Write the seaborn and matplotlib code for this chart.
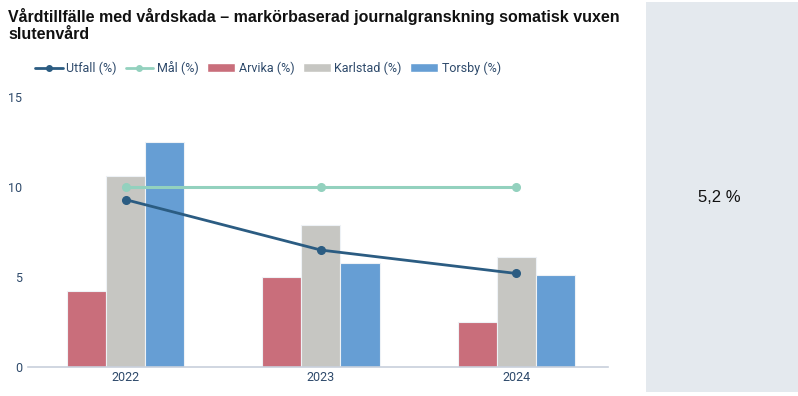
import pandas as pd
import matplotlib.pyplot as plt
import seaborn as sns
from matplotlib.lines import Line2D
from matplotlib.patches import Patch

# Data
years = ["2022", "2023", "2024"]
arvika = [4.2, 5.0, 2.5]
karlstad = [10.6, 7.9, 6.1]
torsby = [12.5, 5.8, 5.1]
utfall = [9.3, 6.5, 5.2]
mal = [10, 10, 10]
kpi_text = "5,2 %"

series_names = ["Arvika (%)", "Karlstad (%)", "Torsby (%)"]
bar_colors = ["#C96E7B", "#C6C6C2", "#669ED4"]
utfall_color = "#2B5C82"
mal_color = "#93D1BE"
text_color = "#2E4A6B"

df = pd.DataFrame({
    "year": years * 3,
    "value": arvika + karlstad + torsby,
    "serie": [s for s in series_names for _ in years],
})

sns.set_theme(style="white")
plt.rcParams["font.family"] = ["Roboto", "DejaVu Sans"]

fig = plt.figure(figsize=(7.98, 3.96), dpi=100)
ax = fig.add_axes([0.035, 0.073, 0.727, 0.682])

sns.barplot(data=df, x="year", y="value", hue="serie", palette=bar_colors,
            saturation=1, width=0.6, edgecolor="#EEF2F6", linewidth=0.8,
            ax=ax, legend=False)

x_pos = range(len(years))
ax.plot(x_pos, mal, color=mal_color, lw=2.2, marker="o", ms=5.5, zorder=3)
ax.plot(x_pos, utfall, color=utfall_color, lw=2, marker="o", ms=5.5, zorder=4)

ax.set_ylim(0, 15)
ax.set_xlim(-0.5, 2.47)
ax.set_yticks([0, 5, 10, 15])
ax.set_xlabel("")
ax.set_ylabel("")
for side in ["left", "top", "right"]:
    ax.spines[side].set_visible(False)
ax.spines["bottom"].set_color("#C8D0DC")
ax.spines["bottom"].set_linewidth(1.2)
ax.tick_params(axis="both", length=0, labelsize=9, labelcolor=text_color)
ax.tick_params(axis="y", pad=4)
ax.tick_params(axis="x", pad=3)

fig.text(0.01, 0.98, "Vårdtillfälle med vårdskada – markörbaserad journalgranskning somatisk vuxen\nslutenvård",
         ha="left", va="top", fontsize=11.5, fontweight="bold", family="Liberation Sans",
         color="#111111", linespacing=1.2)

handles = [
    Line2D([0], [0], color=utfall_color, lw=2, marker="o", ms=4),
    Line2D([0], [0], color=mal_color, lw=2, marker="o", ms=4),
    Patch(facecolor=bar_colors[0]),
    Patch(facecolor=bar_colors[1]),
    Patch(facecolor=bar_colors[2]),
]
labels = ["Utfall (%)", "Mål (%)"] + series_names
leg = fig.legend(handles, labels, loc="center left", bbox_to_anchor=(0.03, 0.828),
                 ncol=5, frameon=False, fontsize=9, handlelength=2.2,
                 handletextpad=0.3, columnspacing=0.7)
for t in leg.get_texts():
    t.set_color(text_color)

# KPI panel on the right
panel = fig.add_axes([0.81, 0.01, 0.19, 0.985])
panel.set_facecolor("#E4E9EE")
panel.set_xticks([])
panel.set_yticks([])
for s in panel.spines.values():
    s.set_visible(False)
panel.text(0.48, 0.5, kpi_text, ha="center", va="center", fontsize=12,
           family="Liberation Sans", color="#111111", transform=panel.transAxes)

fig.savefig("out.png", dpi=100)
